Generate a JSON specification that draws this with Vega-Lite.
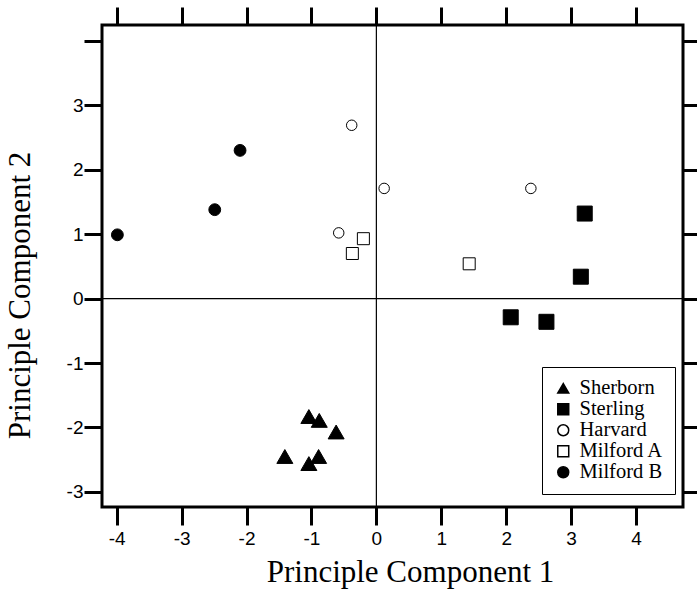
{
  "$schema": "https://vega.github.io/schema/vega-lite/v6.json",
  "autosize": {"type": "none"},
  "padding": {"left": 102, "top": 25, "right": 14, "bottom": 88},
  "width": 581,
  "height": 482,
  "background": "white",
  "config": {
    "view": {"stroke": "black", "strokeWidth": 3},
    "axis": {
      "domain": false,
      "grid": false,
      "tickColor": "black",
      "tickWidth": 3,
      "tickSize": 18,
      "labelFont": "Liberation Sans",
      "labelFontSize": 19,
      "labelColor": "black",
      "titleFont": "Liberation Serif",
      "titleFontSize": 31,
      "titleFontWeight": "normal",
      "titleColor": "black"
    },
    "legend": {
      "orient": "none",
      "legendX": 440,
      "legendY": 342,
      "labelFont": "Liberation Serif",
      "labelFontSize": 20.5,
      "labelColor": "black",
      "labelOffset": 6,
      "symbolSize": 120,
      "strokeColor": "black",
      "fillColor": "white",
      "padding": 11,
      "rowPadding": 0
    }
  },
  "data": {
    "values": [
      {"pc1": -1.04, "pc2": -1.83, "group": "Sherborn"},
      {"pc1": -0.88, "pc2": -1.89, "group": "Sherborn"},
      {"pc1": -0.62, "pc2": -2.07, "group": "Sherborn"},
      {"pc1": -1.41, "pc2": -2.45, "group": "Sherborn"},
      {"pc1": -0.89, "pc2": -2.45, "group": "Sherborn"},
      {"pc1": -1.04, "pc2": -2.56, "group": "Sherborn"},
      {"pc1": 3.21, "pc2": 1.32, "group": "Sterling"},
      {"pc1": 3.15, "pc2": 0.34, "group": "Sterling"},
      {"pc1": 2.07, "pc2": -0.29, "group": "Sterling"},
      {"pc1": 2.62, "pc2": -0.36, "group": "Sterling"},
      {"pc1": -0.38, "pc2": 2.69, "group": "Harvard"},
      {"pc1": 0.12, "pc2": 1.71, "group": "Harvard"},
      {"pc1": -0.58, "pc2": 1.02, "group": "Harvard"},
      {"pc1": 2.38, "pc2": 1.71, "group": "Harvard"},
      {"pc1": -0.2, "pc2": 0.93, "group": "Milford A"},
      {"pc1": -0.37, "pc2": 0.7, "group": "Milford A"},
      {"pc1": 1.43, "pc2": 0.54, "group": "Milford A"},
      {"pc1": -3.99, "pc2": 0.99, "group": "Milford B"},
      {"pc1": -2.49, "pc2": 1.38, "group": "Milford B"},
      {"pc1": -2.1, "pc2": 2.3, "group": "Milford B"}
    ]
  },
  "layer": [
    {
      "data": {"values": [{}]},
      "mark": {"type": "rule", "color": "black", "strokeWidth": 1.2},
      "encoding": {
        "x": {
          "datum": 0,
          "type": "quantitative",
          "scale": {"domain": [-4.227, 4.724], "nice": false, "zero": false},
          "axis": {"orient": "top", "values": [-4, -3, -2, -1, 0, 1, 2, 3, 4], "labels": false, "title": null}
        }
      }
    },
    {
      "data": {"values": [{}]},
      "mark": {"type": "rule", "color": "black", "strokeWidth": 1.2},
      "encoding": {
        "y": {
          "datum": 0,
          "type": "quantitative",
          "scale": {"domain": [-3.234, 4.246], "nice": false, "zero": false},
          "axis": {"orient": "right", "values": [-3, -2, -1, 0, 1, 2, 3, 4], "labels": false, "title": null}
        }
      }
    },
    {
      "mark": {"type": "point", "filled": true, "stroke": "black", "strokeWidth": 1, "opacity": 1},
      "encoding": {
        "x": {
          "field": "pc1",
          "type": "quantitative",
          "scale": {"domain": [-4.227, 4.724], "nice": false, "zero": false},
          "axis": {
            "orient": "bottom",
            "values": [-4, -3, -2, -1, 0, 1, 2, 3, 4],
            "labelExpr": "toString(datum.value)",
            "labelPadding": 4,
            "title": "Principle Component 1",
            "titlePadding": 9,
            "titleX": 308
          }
        },
        "y": {
          "field": "pc2",
          "type": "quantitative",
          "scale": {"domain": [-3.234, 4.246], "nice": false, "zero": false},
          "axis": {
            "orient": "left",
            "values": [-3, -2, -1, 0, 1, 2, 3, 4],
            "labelExpr": "datum.value == 4 ? '' : toString(datum.value)",
            "labelPadding": 1,
            "title": "Principle Component 2",
            "titlePadding": 30,
            "titleY": 270
          }
        },
        "shape": {
          "field": "group",
          "type": "nominal",
          "scale": {
            "domain": ["Sherborn", "Sterling", "Harvard", "Milford A", "Milford B"],
            "range": ["triangle-up", "square", "circle", "square", "circle"]
          },
          "legend": {
            "title": null,
            "labelFont": "Liberation Serif",
            "labelFontSize": 20.5,
            "encode": {
              "symbols": {"update": {"stroke": {"value": "black"}, "strokeWidth": {"value": 1}}}
            }
          }
        },
        "fill": {
          "field": "group",
          "type": "nominal",
          "scale": {
            "domain": ["Sherborn", "Sterling", "Harvard", "Milford A", "Milford B"],
            "range": ["black", "black", "white", "white", "black"]
          },
          "legend": {
            "title": null,
            "labelFont": "Liberation Serif",
            "labelFontSize": 20.5,
            "encode": {
              "symbols": {"update": {"stroke": {"value": "black"}, "strokeWidth": {"value": 1}}}
            }
          }
        },
        "size": {
          "condition": [
            {"test": "datum.group == 'Sherborn'", "value": 256},
            {"test": "datum.group == 'Sterling'", "value": 225},
            {"test": "datum.group == 'Harvard'", "value": 110},
            {"test": "datum.group == 'Milford A'", "value": 144}
          ],
          "value": 140
        }
      }
    }
  ],
  "resolve": {"axis": {"x": "independent", "y": "independent"}}
}
